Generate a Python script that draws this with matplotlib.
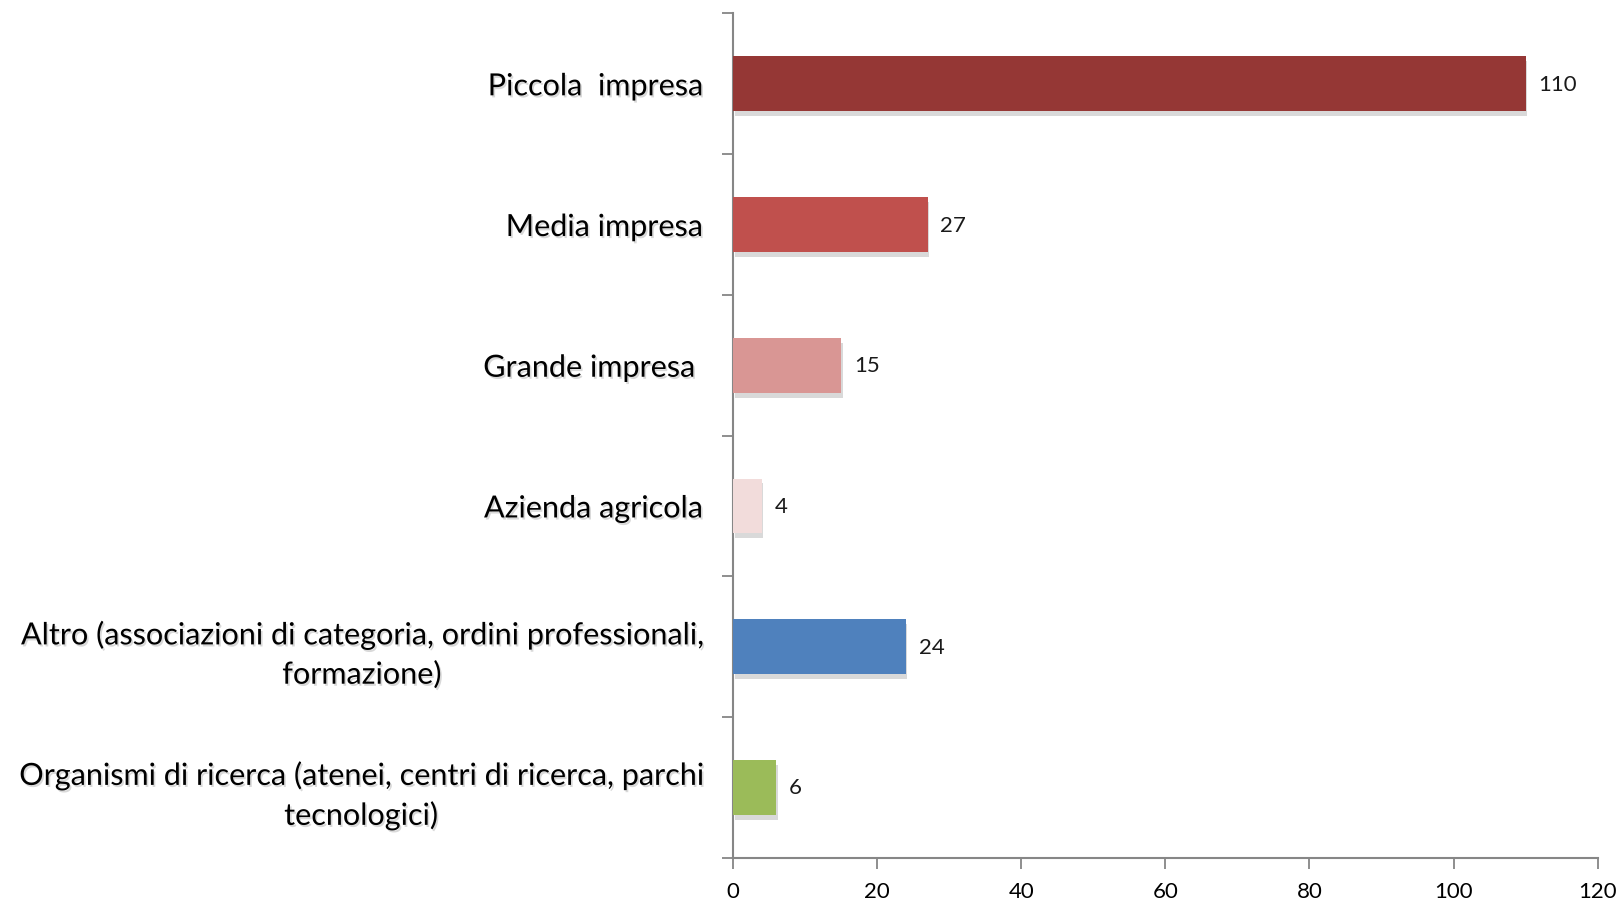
"""Horizontal bar chart: partecipanti per tipologia di soggetto."""

import matplotlib
matplotlib.use("Agg")
import matplotlib.pyplot as plt
import matplotlib.patheffects as pe

categories = [
    "Piccola  impresa",
    "Media impresa",
    "Grande impresa ",
    "Azienda agricola",
    "Altro (associazioni di categoria, ordini professionali,\nformazione)",
    "Organismi di ricerca (atenei, centri di ricerca, parchi\ntecnologici)",
]
values = [110, 27, 15, 4, 24, 6]
colors = ["#953735", "#C0504D", "#D99694", "#F2DCDB", "#4F81BD", "#9BBB59"]
x_ticks = [0, 20, 40, 60, 80, 100, 120]

plt.rcParams["font.family"] = ["Lato", "DejaVu Sans"]

fig = plt.figure(figsize=(16.22, 9.03), dpi=100)
ax = fig.add_axes([0.452, 0.049, 0.533, 0.935])

n = len(categories)
ypos = list(range(n))
bars = ax.barh(ypos, values, height=0.39, color=colors, zorder=3)
for b in bars:
    b.set_path_effects([pe.SimplePatchShadow(offset=(1, -3.5), alpha=0.22, shadow_rgbFace="#555555"),
                        pe.Normal()])

for y, v in zip(ypos, values):
    ax.annotate(f"{v}", (v, y), xytext=(9, 0), textcoords="offset points",
                va="center", ha="left", fontsize=16, color="#1a1a1a")

ax.set_xlim(0, 120)
ax.set_ylim(n - 0.5, -0.5)
ax.set_xticks(x_ticks)
ax.set_xticklabels([str(t) for t in x_ticks], fontsize=16)

# boundary ticks on y axis, labels on minor ticks at bar centres
ax.set_yticks([k - 0.5 for k in range(n + 1)])
ax.set_yticklabels([])
ax.set_yticks(ypos, minor=True)
ax.set_yticklabels(categories, minor=True, fontsize=22, multialignment="center",
                   linespacing=1.45)
for lab in ax.get_yticklabels(minor=True):
    lab.set_path_effects([pe.SimplePatchShadow(offset=(1.2, -1.5), alpha=0.15), pe.Normal()])

ax.tick_params(axis="y", which="major", length=8, width=1.3, color="#868686", direction="out")
ax.tick_params(axis="y", which="minor", length=0, pad=22)
ax.tick_params(axis="x", length=8, width=1.3, color="#868686", direction="out", pad=9)

for side in ["top", "right"]:
    ax.spines[side].set_visible(False)
for side in ["left", "bottom"]:
    ax.spines[side].set_color("#868686")
    ax.spines[side].set_linewidth(1.5)

fig.savefig("out.png", dpi=100)
plt.close(fig)
